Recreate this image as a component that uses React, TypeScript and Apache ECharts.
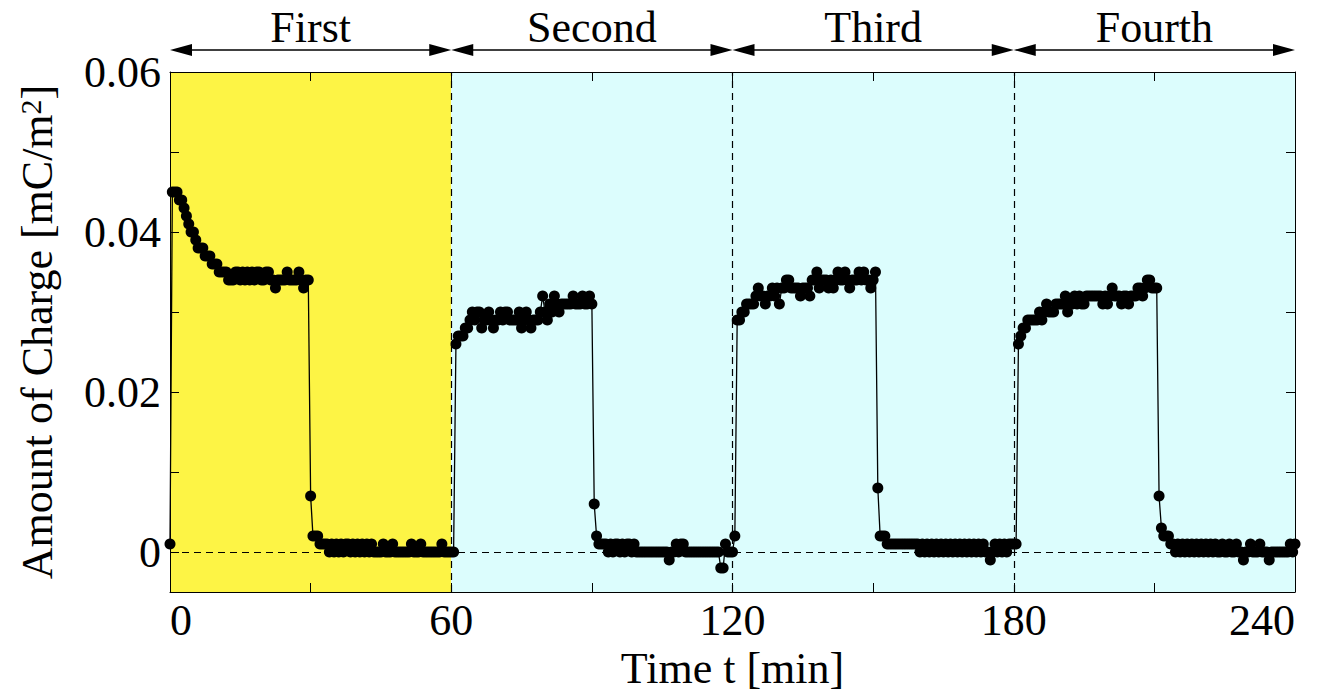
import React, { useEffect, useRef } from "react";
import * as echarts from "echarts";

// Sampling step of the measurement (min)
const STEP = 0.5;

// Start time of each phase (min) and phase names
const PHASE_BOUNDS = [0, 60, 120, 180, 240];
const PHASE_NAMES = ["First", "Second", "Third", "Fourth"];

// Amount of charge [mC/m^2], sampled every STEP minutes from each phase start
const PHASE1 = [
  0.001, 0.045, 0.045, 0.045, 0.044, 0.044, 0.043, 0.042, 0.041, 0.040,
  0.040, 0.039, 0.038, 0.038, 0.038, 0.037, 0.037, 0.037, 0.036, 0.036,
  0.036, 0.035, 0.035, 0.035, 0.035, 0.034,
  0.034, 0.034, 0.035, 0.035, 0.034, 0.035, 0.034, 0.035, 0.034, 0.035,
  0.034, 0.035, 0.035, 0.034, 0.034, 0.035, 0.035, 0.034, 0.034, 0.033,
  0.034, 0.034, 0.034, 0.034, 0.035, 0.034, 0.034, 0.034, 0.034, 0.035,
  0.034, 0.033, 0.034, 0.034,
  0.007, 0.002, 0.002, 0.002, 0.001, 0.001, 0.001, 0.001, 0.000, 0.001,
  0.000, 0.001, 0.000, 0.001, 0.000, 0.001, 0.001, 0.000, 0.001, 0.000,
  0.001, 0.000, 0.001, 0.000, 0.001, 0.000, 0.001, 0.000, 0.000, 0.000,
  0.000, 0.001, 0.000, 0.000, 0.000, 0.001, 0.000, 0.000, 0.000, 0.000,
  0.000, 0.000, 0.000, 0.001, 0.000, 0.000, 0.000, 0.001, 0.000, 0.000,
  0.000, 0.000, 0.000, 0.000, 0.000, 0.000, 0.001, 0.000, 0.000, 0.000,
];
const PHASE2 = [
  0.000, 0.000, 0.026, 0.027, 0.027, 0.027, 0.028, 0.028, 0.029, 0.030,
  0.029, 0.030, 0.030, 0.028, 0.029, 0.029, 0.030, 0.029, 0.028, 0.029,
  0.029, 0.030, 0.029, 0.030, 0.030, 0.029, 0.029, 0.029, 0.029, 0.030,
  0.028, 0.029, 0.030, 0.029, 0.028, 0.029, 0.029, 0.029, 0.030, 0.032,
  0.030, 0.029, 0.031, 0.030, 0.032, 0.031, 0.030, 0.031, 0.031, 0.031,
  0.031, 0.031, 0.032, 0.031, 0.031, 0.031, 0.032, 0.031, 0.031, 0.032,
  0.031, 0.006, 0.002, 0.001, 0.001, 0.001, 0.001, 0.000, 0.001, 0.000,
  0.001, 0.001, 0.000, 0.001, 0.000, 0.001, 0.001, 0.000, 0.001, 0.000,
  0.000, 0.000, 0.000, 0.000, 0.000, 0.000, 0.000, 0.000, 0.000, 0.000,
  0.000, 0.000, 0.000, -0.001, 0.000, 0.000, 0.001, 0.000, 0.001, 0.001,
  0.000, 0.000, 0.000, 0.000, 0.000, 0.000, 0.000, 0.000, 0.000, 0.000,
  0.000, 0.000, 0.000, 0.000, 0.000, -0.002, -0.002, 0.001, 0.000, 0.000,
];
const PHASE3 = [
  0.000, 0.002, 0.029, 0.029, 0.030, 0.030, 0.031, 0.031, 0.031, 0.031,
  0.032, 0.033, 0.032, 0.032, 0.031, 0.032, 0.032, 0.033, 0.032, 0.033,
  0.031, 0.033, 0.033, 0.034, 0.034, 0.033, 0.033, 0.033, 0.033, 0.032,
  0.033, 0.033, 0.033, 0.032, 0.034, 0.034, 0.035, 0.033, 0.034, 0.034,
  0.034, 0.033, 0.034, 0.033, 0.034, 0.035, 0.034, 0.034, 0.035, 0.034,
  0.033, 0.034, 0.034, 0.034, 0.035, 0.034, 0.035, 0.034, 0.034, 0.033,
  0.034, 0.035, 0.008, 0.002, 0.002, 0.002, 0.001, 0.001, 0.001, 0.001,
  0.001, 0.001, 0.001, 0.001, 0.001, 0.001, 0.001, 0.001, 0.001, 0.001,
  0.000, 0.001, 0.000, 0.001, 0.000, 0.001, 0.000, 0.001, 0.000, 0.001,
  0.000, 0.001, 0.000, 0.001, 0.000, 0.001, 0.000, 0.001, 0.000, 0.001,
  0.000, 0.001, 0.000, 0.001, 0.000, 0.001, 0.000, 0.001, 0.000, 0.000,
  -0.001, 0.000, 0.001, 0.000, 0.001, 0.000, 0.001, 0.000, 0.001, 0.001,
];
const PHASE4 = [
  0.001, 0.001, 0.026, 0.027, 0.028, 0.028, 0.029, 0.029, 0.029, 0.029,
  0.029, 0.030, 0.029, 0.030, 0.031, 0.030, 0.030, 0.030, 0.031, 0.031,
  0.031, 0.031, 0.032, 0.030, 0.031, 0.031, 0.032, 0.031, 0.032, 0.031,
  0.031, 0.032, 0.032, 0.032, 0.032, 0.032, 0.032, 0.032, 0.031, 0.032,
  0.031, 0.032, 0.033, 0.032, 0.032, 0.032, 0.031, 0.032, 0.032, 0.031,
  0.032, 0.032, 0.032, 0.033, 0.033, 0.032, 0.033, 0.034, 0.034, 0.033,
  0.033, 0.033, 0.007, 0.003, 0.002, 0.002, 0.002, 0.001, 0.001, 0.000,
  0.001, 0.000, 0.001, 0.000, 0.001, 0.000, 0.001, 0.000, 0.001, 0.000,
  0.001, 0.000, 0.001, 0.000, 0.001, 0.000, 0.001, 0.000, 0.000, 0.001,
  0.000, 0.000, 0.001, 0.000, 0.000, 0.001, 0.000, 0.000, -0.001, 0.000,
  0.000, 0.001, 0.000, 0.000, 0.000, 0.001, 0.000, 0.000, 0.000, -0.001,
  0.000, 0.000, 0.000, 0.000, 0.000, 0.000, 0.000, 0.000, 0.001, 0.000,
];
const FINAL_POINT = [240, 0.001];

// Axis ticks and labels
const X_LABELS = [0, 60, 120, 180, 240];
const X_TICKS = [0, 30, 60, 90, 120, 150, 180, 210, 240];
const Y_LABELS = [0, 0.02, 0.04, 0.06];
const Y_TICKS = [0, 0.01, 0.02, 0.03, 0.04, 0.05, 0.06];
const Y_MIN = -0.005;
const Y_MAX = 0.06;

const FONT = '"Liberation Serif", "Times New Roman", Times, serif';
const YELLOW = "#fdf445";
const CYAN = "#dcfdfd";

export default function App() {
  const ref = useRef<HTMLDivElement | null>(null);

  useEffect(() => {
    if (!ref.current) return;
    const chart = echarts.init(ref.current, null, { renderer: "svg" });

    const phases: [number, number[]][] = [
      [PHASE_BOUNDS[0], PHASE1],
      [PHASE_BOUNDS[1], PHASE2],
      [PHASE_BOUNDS[2], PHASE3],
      [PHASE_BOUNDS[3], PHASE4],
    ];
    const data: number[][] = [];
    phases.forEach(([start, arr]) => {
      arr.forEach((v, i) => data.push([start + i * STEP, v]));
    });
    data.push(FINAL_POINT);

    const tickStyle = { color: "#000", width: 1 };
    const labelStyle = { fontFamily: FONT, fontSize: 44, color: "#000" };

    const option: any = {
      animation: false,
      backgroundColor: "#fff",
      grid: {
        left: 170,
        right: 36,
        top: 72,
        bottom: 101,
        containLabel: false,
        outerBoundsMode: "none",
      },
      xAxis: [
        {
          type: "value",
          min: 0,
          max: 240,
          position: "bottom",
          z: 5,
          axisLine: { show: true, onZero: false, lineStyle: tickStyle },
          axisTick: {
            show: true,
            inside: true,
            length: 9,
            customValues: X_TICKS,
            lineStyle: tickStyle,
          },
          axisLabel: {
            ...labelStyle,
            customValues: X_LABELS,
            margin: 6,
            alignMinLabel: "left",
            alignMaxLabel: "right",
          },
          splitLine: { show: false },
          name: "Time t [min]",
          nameLocation: "middle",
          nameGap: 50,
          nameTextStyle: { ...labelStyle, verticalAlign: "top" },
        },
        {
          type: "value",
          min: 0,
          max: 240,
          position: "top",
          z: 5,
          axisLine: { show: true, onZero: false, lineStyle: tickStyle },
          axisTick: {
            show: true,
            inside: true,
            length: 9,
            customValues: X_TICKS,
            lineStyle: tickStyle,
          },
          axisLabel: { show: false },
          splitLine: { show: false },
        },
      ],
      yAxis: [
        {
          type: "value",
          min: Y_MIN,
          max: Y_MAX,
          position: "left",
          z: 5,
          axisLine: { show: true, onZero: false, lineStyle: tickStyle },
          axisTick: {
            show: true,
            inside: true,
            length: 9,
            customValues: Y_TICKS,
            lineStyle: tickStyle,
          },
          axisLabel: {
            ...labelStyle,
            customValues: Y_LABELS,
            margin: 9,
            formatter: (v: number) => (v === 0 ? "0" : v.toFixed(2)),
          },
          splitLine: { show: false },
          name: "{a|Amount of Charge [mC/m}{s|2}{a|]}",
          nameLocation: "middle",
          nameRotate: 90,
          nameGap: 105,
          nameTextStyle: {
            rich: {
              a: {
                fontFamily: FONT,
                fontSize: 44,
                lineHeight: 44,
                color: "#000",
                verticalAlign: "bottom",
              },
              s: {
                fontFamily: FONT,
                fontSize: 30,
                lineHeight: 30,
                color: "#000",
                verticalAlign: "top",
                padding: [0, 0, 28, 0],
              },
            },
          },
        },
        {
          type: "value",
          min: Y_MIN,
          max: Y_MAX,
          position: "right",
          z: 5,
          axisLine: { show: true, onZero: false, lineStyle: tickStyle },
          axisTick: {
            show: true,
            inside: true,
            length: 9,
            customValues: Y_TICKS,
            lineStyle: tickStyle,
          },
          axisLabel: { show: false },
          splitLine: { show: false },
        },
      ],
      series: [
        {
          type: "line",
          xAxisIndex: 0,
          yAxisIndex: 0,
          data,
          symbol: "circle",
          symbolSize: 11,
          showSymbol: true,
          showAllSymbol: true,
          clip: false,
          itemStyle: { color: "#000" },
          lineStyle: { color: "#000", width: 1.3 },
          markArea: {
            silent: true,
            data: [
              [
                { xAxis: PHASE_BOUNDS[0], itemStyle: { color: YELLOW } },
                { xAxis: PHASE_BOUNDS[1] },
              ],
              [
                { xAxis: PHASE_BOUNDS[1], itemStyle: { color: CYAN } },
                { xAxis: PHASE_BOUNDS[4] },
              ],
            ],
          },
          markLine: {
            silent: true,
            symbol: "none",
            label: { show: false },
            lineStyle: { color: "#000", width: 1.2, type: [7, 5] },
            data: [
              { xAxis: PHASE_BOUNDS[1] },
              { xAxis: PHASE_BOUNDS[2] },
              { xAxis: PHASE_BOUNDS[3] },
              { yAxis: 0 },
            ],
          },
        },
      ],
    };

    chart.setOption(option);

    // Phase annotations (arrows + names) above the plot
    const ARROW_Y = 50;
    const TEXT_Y = 27;
    const HEAD_L = 22;
    const HEAD_W = 6;
    const elements: any[] = [];
    for (let i = 0; i < PHASE_NAMES.length; i++) {
      const xa = chart.convertToPixel({ xAxisIndex: 0 }, PHASE_BOUNDS[i]) as number;
      const xb = chart.convertToPixel({ xAxisIndex: 0 }, PHASE_BOUNDS[i + 1]) as number;
      elements.push({
        type: "line",
        shape: { x1: xa + 4, y1: ARROW_Y, x2: xb - 4, y2: ARROW_Y },
        style: { stroke: "#000", lineWidth: 1.5 },
      });
      elements.push({
        type: "polygon",
        shape: {
          points: [
            [xa, ARROW_Y],
            [xa + HEAD_L, ARROW_Y - HEAD_W],
            [xa + HEAD_L, ARROW_Y + HEAD_W],
          ],
        },
        style: { fill: "#000" },
      });
      elements.push({
        type: "polygon",
        shape: {
          points: [
            [xb, ARROW_Y],
            [xb - HEAD_L, ARROW_Y - HEAD_W],
            [xb - HEAD_L, ARROW_Y + HEAD_W],
          ],
        },
        style: { fill: "#000" },
      });
      elements.push({
        type: "text",
        x: (xa + xb) / 2,
        y: TEXT_Y,
        style: {
          text: PHASE_NAMES[i],
          font: `44px ${FONT}`,
          fill: "#000",
          align: "center",
          verticalAlign: "middle",
        },
      });
    }
    chart.setOption({ graphic: elements });

    return () => chart.dispose();
  }, []);

  return (
    <div
      ref={ref}
      style={{
        position: "fixed",
        left: 0,
        top: 0,
        width: 1331,
        height: 693,
        background: "#fff",
      }}
    />
  );
}
